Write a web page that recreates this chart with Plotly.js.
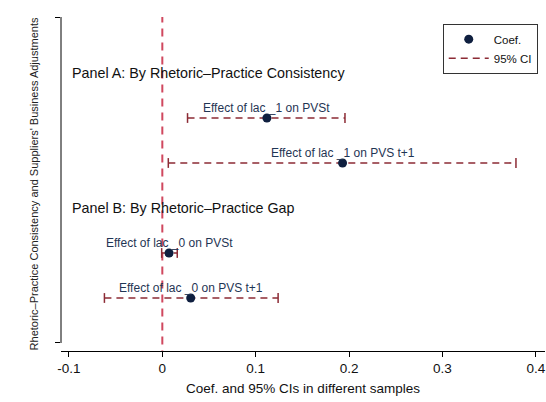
<!DOCTYPE html>
<html><head><meta charset="utf-8">
<script src="https://cdn.plot.ly/plotly-3.0.1.min.js"></script>
<style>html,body{margin:0;padding:0;background:#fff}#chart{width:546px;height:402px}</style>
</head><body><div id="chart"></div>
<script>
const labels = ["Effect of lac _1 on PVSt", "Effect of lac _1 on PVS t+1", "Effect of lac _0 on PVSt", "Effect of lac _0 on PVS t+1"];
const rows = [2, 3, 5, 6];
const coef = [0.112, 0.193, 0.0072, 0.0304];
const ciLow = [0.027, 0.0064, -0.0007, -0.062];
const ciHigh = [0.1956, 0.3787, 0.016, 0.124];
const panelTitles = ["Panel A: By Rhetoric\u2013Practice Consistency", "Panel B: By Rhetoric\u2013Practice Gap"];
const panelRows = [1, 4];
const xTicks = [-0.1, 0, 0.1, 0.2, 0.3, 0.4];

const ciColor = '#8c2b35';
const ptColor = '#0f1f3f';
const font = 'Liberation Sans, Arial, sans-serif';

const ciX = [], ciY = [], capX = [], capY = [];
for (let i = 0; i < coef.length; i++) {
  ciX.push(ciLow[i], ciHigh[i], null); ciY.push(rows[i], rows[i], null);
  capX.push(ciLow[i], ciHigh[i]); capY.push(rows[i], rows[i]);
}

const traces = [
  {x: [0,0], y: [-0.3, 7.3], mode: 'lines', line: {color: '#d0485f', width: 2, dash: '8px,6px'}, showlegend: false, hoverinfo: 'skip'},
  {x: ciX, y: ciY, mode: 'lines', name: '95% CI', line: {color: ciColor, width: 1.6, dash: '7px,5px'}},
  {x: capX, y: capY, mode: 'markers', showlegend: false, marker: {symbol: 'line-ns-open', size: 7, color: ciColor, line: {color: ciColor, width: 1.5}}},
  {x: coef, y: rows, mode: 'markers', name: 'Coef.', marker: {color: ptColor, size: 9}}
];

const annotations = [];
for (let i = 0; i < coef.length; i++) {
  annotations.push({x: coef[i], y: rows[i], text: labels[i], showarrow: false, yshift: 10, xanchor: 'center', font: {family: font, size: 12, color: '#1f3554'}});
}
for (let i = 0; i < panelTitles.length; i++) {
  annotations.push({x: 0.018, xref: 'paper', y: panelRows[i], text: panelTitles[i], showarrow: false, xanchor: 'left', font: {family: font, size: 14.3, color: '#111'}});
}

const layout = {
  width: 546, height: 402,
  margin: {l: 61, r: 1, t: 17, b: 51},
  paper_bgcolor: '#fff', plot_bgcolor: '#fff',
  font: {family: font, color: '#111'},
  xaxis: {range: [-0.1085, 0.4098], tickvals: xTicks, ticktext: xTicks.map(String), showgrid: false, zeroline: false,
          showline: true, linecolor: '#000', linewidth: 1, ticks: 'outside', ticklen: 5, tickcolor: '#000',
          tickfont: {size: 13.5, family: font, color: '#111'},
          title: {text: 'Coef. and 95% CIs in different samples', font: {size: 13.5, family: font, color: '#111'}, standoff: 8}},
  yaxis: {range: [7.178, -0.2444], tickvals: [-0.2444, 7], showticklabels: false, showgrid: false, zeroline: false,
          showline: false, ticks: 'outside', ticklen: 5, tickcolor: '#000',
          title: {text: "Rhetoric\u2013Practice Consistency and Suppliers' Business Adjustments", font: {size: 11, family: font, color: '#222'}, standoff: 14}},
  shapes: [{type: 'line', xref: 'paper', yref: 'y', x0: 0, x1: 0, y0: -0.2444, y1: 7, line: {color: '#000', width: 1}}],
  annotations: annotations,
  showlegend: true,
  legend: {x: 0.985, xanchor: 'right', y: 0.98, yanchor: 'top', bordercolor: '#333', borderwidth: 1, bgcolor: '#fff',
           font: {size: 11.5, family: font, color: '#111'}, traceorder: 'reversed', itemwidth: 40, tracegroupgap: 0}
};

Plotly.newPlot('chart', traces, layout, {displayModeBar: false, staticPlot: true});
</script></body></html>
